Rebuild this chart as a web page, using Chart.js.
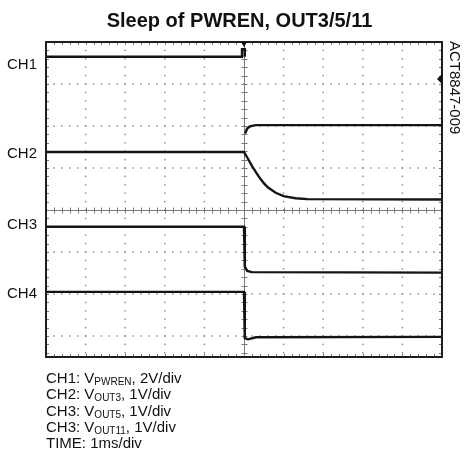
<!DOCTYPE html>
<html>
<head>
<meta charset="utf-8">
<script src="https://cdn.jsdelivr.net/npm/chart.js@4.4.0/dist/chart.umd.min.js"></script>
<style>
body { margin: 0; background: #fff; font-family: "Liberation Sans", Arial, sans-serif; color: #111; }
#wrap { position: relative; width: 469px; height: 453px; }
#scope { position: absolute; left: 0; top: 0; }
.title { position: absolute; left: 5px; top: 10px; width: 469px; text-align: center; font-weight: bold; font-size: 20px; line-height: 20px; }
.tag { position: absolute; left: 463px; top: 41px; font-size: 15px; line-height: 15px; white-space: nowrap; transform-origin: 0 0; transform: rotate(90deg); }
.notes { position: absolute; left: 46px; top: 370px; font-size: 15px; line-height: 16.3px; white-space: nowrap; }
.notes span { font-size: 10px; line-height: 0; position: relative; top: 2px; }
</style>
</head>
<body>
<div id="wrap">
  <canvas id="scope" width="469" height="453"></canvas>
  <div class="title">Sleep of PWREN, OUT3/5/11</div>
  <div class="tag">ACT8847-009</div>
  <div class="notes">
    CH1: V<span>PWREN</span>, 2V/div<br>
    CH2: V<span>OUT3</span>, 1V/div<br>
    CH3: V<span>OUT5</span>, 1V/div<br>
    CH3: V<span>OUT11</span>, 1V/div<br>
    TIME: 1ms/div
  </div>
</div>
<script>
// screen in divisions: x -5..5, y cut at -3.5..4
const xDivs = [-5, -4, -3, -2, -1, 0, 1, 2, 3, 4, 5];
const yDivs = [-3, -2, -1, 0, 1, 2, 3];
const channelNames = ['CH1', 'CH2', 'CH3', 'CH4'];
const channelLevels = [3.48, 1.36, -0.33, -1.96];
const triggerLevel = 3.12;

// traces (time in div, level in div); null = edge too fast to show
const ch1Time = [-5, -0.05, -0.05, 0.02, 0.02, 0.02, 0.03, 0.08, 0.15, 0.3, 5];
const ch1Volt = [3.65, 3.65, 3.83, 3.83, 3.65, null, 1.82, 1.94, 1.99, 2.02, 2.02];
const ch2Time = [-5, 0, 0.1, 0.2, 0.3, 0.4, 0.5, 0.6, 0.8, 1.0, 1.3, 1.6, 5];
const ch2Volt = [1.38, 1.38, 1.22, 1.05, 0.9, 0.76, 0.64, 0.54, 0.41, 0.33, 0.28, 0.26, 0.25];
const ch3Time = [-5, 0, 0.02, 0.08, 0.2, 5];
const ch3Volt = [-0.40, -0.40, -1.35, -1.45, -1.48, -1.49];
const ch4Time = [-5, 0, 0.02, 0.1, 0.3, 5];
const ch4Volt = [-1.95, -1.95, -3.05, -3.08, -3.03, -3.02];

const traces = [[ch1Time, ch1Volt], [ch2Time, ch2Volt], [ch3Time, ch3Volt], [ch4Time, ch4Volt]];

const graticule = {
    id: 'graticule',
    beforeDatasetsDraw(chart) {
        const { ctx, chartArea: a, scales: { x, y } } = chart;
        ctx.save();
        // dotted grid lines
        ctx.fillStyle = '#8f8f8f';
        xDivs.forEach(v => {
            if (v === 0 || Math.abs(v) === 5) return;
            const px = x.getPixelForValue(v);
            for (let k = -17; k <= 19; k++) {
                ctx.fillRect(px - 0.75, y.getPixelForValue(k / 5) - 0.75, 1.5, 1.5);
            }
        });
        yDivs.forEach(v => {
            if (v === 0) return;
            const py = y.getPixelForValue(v);
            for (let k = -24; k <= 24; k++) {
                ctx.fillRect(x.getPixelForValue(k / 5) - 0.75, py - 0.75, 1.5, 1.5);
            }
        });
        // centre axes with minor ticks
        ctx.strokeStyle = '#7a7a7a';
        ctx.lineWidth = 1;
        const cx = Math.round(x.getPixelForValue(0)) + 0.5;
        const cy = Math.round(y.getPixelForValue(0)) + 0.5;
        ctx.beginPath();
        ctx.moveTo(a.left, cy); ctx.lineTo(a.right, cy);
        ctx.moveTo(cx, a.top); ctx.lineTo(cx, a.bottom);
        for (let k = -24; k <= 24; k++) {
            const px = Math.round(x.getPixelForValue(k / 5)) + 0.5;
            ctx.moveTo(px, cy - 3); ctx.lineTo(px, cy + 3);
            ctx.moveTo(px, a.top); ctx.lineTo(px, a.top + 3);
            ctx.moveTo(px, a.bottom); ctx.lineTo(px, a.bottom - 3);
        }
        for (let k = -17; k <= 19; k++) {
            const py = Math.round(y.getPixelForValue(k / 5)) + 0.5;
            ctx.moveTo(cx - 3, py); ctx.lineTo(cx + 3, py);
            ctx.moveTo(a.left, py); ctx.lineTo(a.left + 3, py);
            ctx.moveTo(a.right, py); ctx.lineTo(a.right - 3, py);
        }
        ctx.stroke();
        // channel labels
        ctx.fillStyle = '#111';
        ctx.font = '15px "Liberation Sans", Arial, sans-serif';
        channelNames.forEach((n, i) => {
            ctx.fillText(n, 7, y.getPixelForValue(channelLevels[i]) + 5.4);
        });
        ctx.restore();
    },
    afterDatasetsDraw(chart) {
        const { ctx, chartArea: a, scales: { x, y } } = chart;
        ctx.save();
        ctx.strokeStyle = '#1e1e1e';
        ctx.lineWidth = 2;
        ctx.strokeRect(a.left, a.top, a.right - a.left, a.bottom - a.top);
        // trigger position and level markers
        ctx.fillStyle = '#111';
        const tx = x.getPixelForValue(0);
        ctx.beginPath();
        ctx.moveTo(tx - 3, a.top); ctx.lineTo(tx + 3, a.top); ctx.lineTo(tx, a.top + 5);
        ctx.fill();
        const ty = y.getPixelForValue(triggerLevel);
        ctx.beginPath();
        ctx.moveTo(a.right, ty - 5); ctx.lineTo(a.right, ty + 5); ctx.lineTo(a.right - 5, ty);
        ctx.fill();
        ctx.restore();
    }
};

new Chart(document.getElementById('scope'), {
    type: 'line',
    data: {
        datasets: traces.map(([t, v]) => ({
            data: t.map((tt, i) => ({ x: tt, y: v[i] })),
            borderColor: '#141414',
            borderWidth: 2.4,
            pointRadius: 0,
            tension: 0,
            spanGaps: false,
            fill: false
        }))
    },
    options: {
        responsive: false,
        animation: false,
        devicePixelRatio: 1,
        layout: { padding: { left: 46, right: 27, top: 42, bottom: 96 } },
        plugins: { legend: { display: false }, tooltip: { enabled: false } },
        scales: {
            x: { type: 'linear', min: -5, max: 5, display: false },
            y: { type: 'linear', min: -3.5, max: 4, display: false }
        }
    },
    plugins: [graticule]
});
</script>
</body>
</html>
